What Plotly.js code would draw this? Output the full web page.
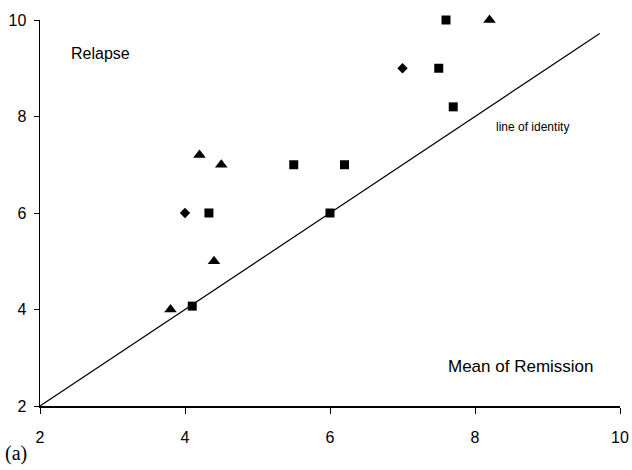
<!DOCTYPE html>
<html>
<head>
<meta charset="utf-8">
<script src="https://cdn.plot.ly/plotly-3.0.1.min.js"></script>
<style>html,body{margin:0;padding:0;background:#fff;}#chart{width:632px;height:470px;}</style>
</head>
<body>
<div id="chart"></div>
<script>
// Data
var diamondX = [4.0, 7.0];
var diamondY = [6.0, 9.0];
var squareX = [4.1, 4.33, 5.5, 6.0, 6.2, 7.5, 7.6, 7.7];
var squareY = [4.07, 6.0, 7.0, 6.0, 7.0, 9.0, 10.0, 8.2];
var triangleX = [3.8, 4.4, 4.2, 4.5, 8.2];
var triangleY = [4.0, 5.0, 7.2, 7.0, 10.0];
var identityX = [2, 9.72];
var identityY = [2, 9.72];
var tickVals = [2, 4, 6, 8, 10];
var tickText = ['2', '4', '6', '8', '10'];

var sans = 'Liberation Sans, Arial, sans-serif';

var traces = [
  {x: identityX, y: identityY, mode: 'lines', type: 'scatter',
   line: {color: '#000', width: 1.2}, hoverinfo: 'skip', cliponaxis: false},
  {x: diamondX, y: diamondY, mode: 'markers', type: 'scatter',
   marker: {symbol: 'diamond', size: 8, color: '#000'}, cliponaxis: false},
  {x: squareX, y: squareY, mode: 'markers', type: 'scatter',
   marker: {symbol: 'square', size: 9, color: '#000'}, cliponaxis: false},
  {x: triangleX, y: triangleY, mode: 'markers', type: 'scatter',
   marker: {symbol: 'triangle-up', size: 11, color: '#000'}, cliponaxis: false}
];

var layout = {
  width: 632, height: 470,
  margin: {l: 40, r: 12, t: 20, b: 64},
  paper_bgcolor: '#fff', plot_bgcolor: '#fff',
  showlegend: false,
  font: {family: sans, color: '#000', size: 16},
  xaxis: {
    range: [2, 10], tickvals: tickVals, ticktext: tickText,
    showgrid: false, zeroline: false, showline: true, linecolor: '#000', linewidth: 1.5,
    ticks: 'outside', ticklen: 6, tickwidth: 1, tickcolor: '#000',
    ticklabelstandoff: 10,
    tickfont: {size: 16, family: sans, color: '#000'}
  },
  yaxis: {
    range: [2, 10], tickvals: tickVals, ticktext: tickText,
    showgrid: false, zeroline: false, showline: true, linecolor: '#000', linewidth: 1.5,
    ticks: 'outside', ticklen: 5, tickwidth: 1, tickcolor: '#000',
    ticklabelstandoff: 4,
    tickfont: {size: 16, family: sans, color: '#000'}
  },
  annotations: [
    {x: 2.4, y: 9.3, xref: 'x', yref: 'y', text: 'Relapse', showarrow: false,
     xanchor: 'left', yanchor: 'middle', font: {family: sans, size: 16, color: '#000'}},
    {x: 8.26, y: 7.78, xref: 'x', yref: 'y', text: 'line of identity', showarrow: false,
     xanchor: 'left', yanchor: 'middle', font: {family: sans, size: 12, color: '#000'}},
    {x: 7.6, y: 2.81, xref: 'x', yref: 'y', text: 'Mean of Remission', showarrow: false,
     xanchor: 'left', yanchor: 'middle', font: {family: sans, size: 17, color: '#000'}},
    {x: -0.064, y: -0.124, xref: 'paper', yref: 'paper', text: '(a)', showarrow: false,
     xanchor: 'left', yanchor: 'middle', font: {family: 'Liberation Serif, Times New Roman, serif', size: 20, color: '#000'}}
  ]
};

Plotly.newPlot('chart', traces, layout, {displayModeBar: false, staticPlot: true});
</script>
</body>
</html>
